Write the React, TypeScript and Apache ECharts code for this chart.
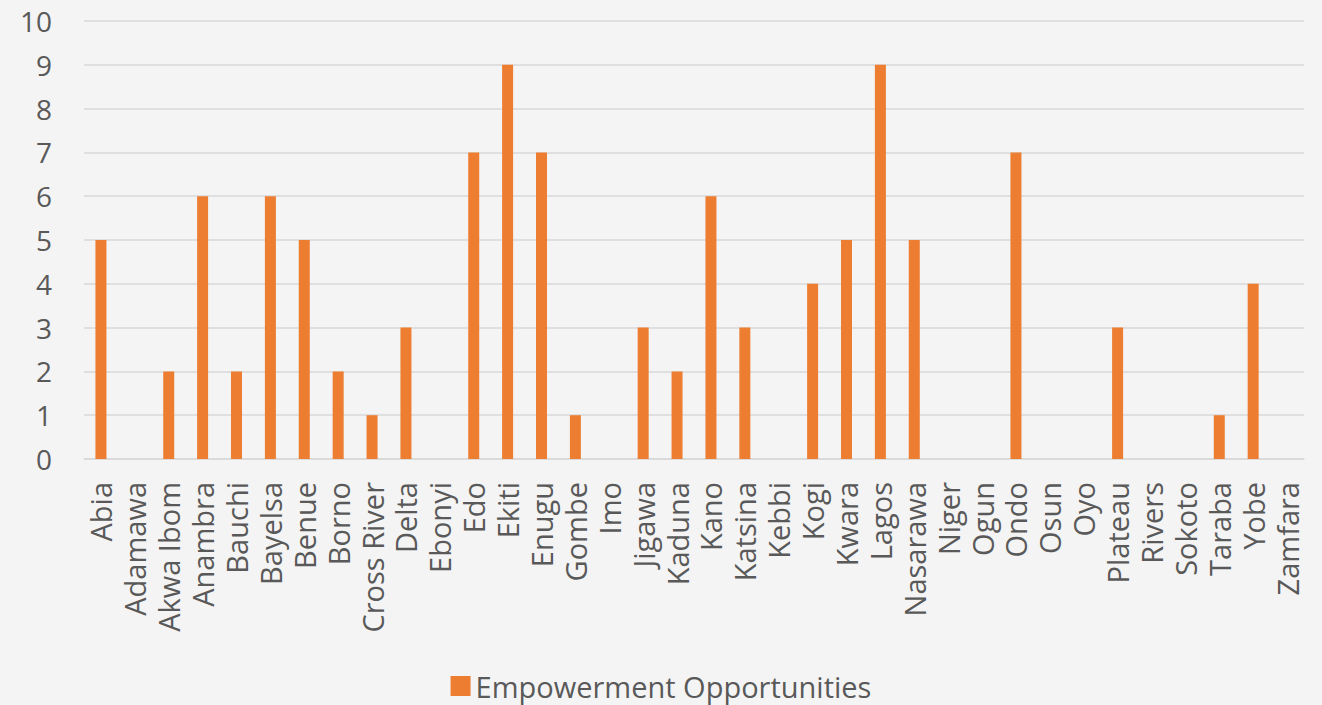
import React, { useEffect, useRef } from "react";
import * as echarts from "echarts";

const states = [
  "Abia", "Adamawa", "Akwa Ibom", "Anambra", "Bauchi", "Bayelsa", "Benue", "Borno",
  "Cross River", "Delta", "Ebonyi", "Edo", "Ekiti", "Enugu", "Gombe", "Imo",
  "Jigawa", "Kaduna", "Kano", "Katsina", "Kebbi", "Kogi", "Kwara", "Lagos",
  "Nasarawa", "Niger", "Ogun", "Ondo", "Osun", "Oyo", "Plateau", "Rivers",
  "Sokoto", "Taraba", "Yobe", "Zamfara",
];
const opportunities = [
  5, 0, 2, 6, 2, 6, 5, 2,
  1, 3, 0, 7, 9, 7, 1, 0,
  3, 2, 6, 3, 0, 4, 5, 9,
  5, 0, 0, 7, 0, 0, 3, 0,
  0, 1, 4, 0,
];
const seriesName = "Empowerment Opportunities";

export default function App() {
  const ref = useRef<HTMLDivElement>(null);
  useEffect(() => {
    if (!ref.current) return;
    const chart = echarts.init(ref.current, undefined, { renderer: "svg" });
    const font = "'Open Sans', 'Noto Sans', sans-serif";
    chart.setOption({
      animation: false,
      backgroundColor: "#f4f4f4",
      textStyle: { fontFamily: font },
      grid: { left: 84, right: 18, top: 21, bottom: 246, containLabel: false },
      legend: {
        top: 671,
        left: "center",
        padding: 0,
        itemWidth: 20,
        itemHeight: 20,
        itemGap: 9,
        icon: "rect",
        textStyle: { fontSize: 29, lineHeight: 30, color: "#595959", fontFamily: font },
        data: [seriesName],
      },
      xAxis: {
        type: "category",
        data: states,
        axisLine: { lineStyle: { color: "#d9d9d9", width: 1.5 } },
        axisTick: { show: false },
        axisLabel: {
          rotate: 90,
          interval: 0,
          margin: 23,
          fontSize: 29,
          color: "#595959",
          fontFamily: font,
        },
      },
      yAxis: {
        type: "value",
        min: 0,
        max: 10,
        interval: 1,
        axisLine: { show: false },
        axisTick: { show: false },
        splitLine: { lineStyle: { color: "#d9d9d9", width: 1.5 } },
        axisLabel: { fontSize: 28, color: "#595959", margin: 32, fontFamily: font },
      },
      series: [
        {
          name: seriesName,
          type: "bar",
          data: opportunities,
          barWidth: 11,
          itemStyle: { color: "#ed7d31" },
        },
      ],
    });
    return () => chart.dispose();
  }, []);
  return (
    <div
      ref={ref}
      style={{ position: "fixed", left: 0, top: 0, width: 1322, height: 705 }}
    />
  );
}
